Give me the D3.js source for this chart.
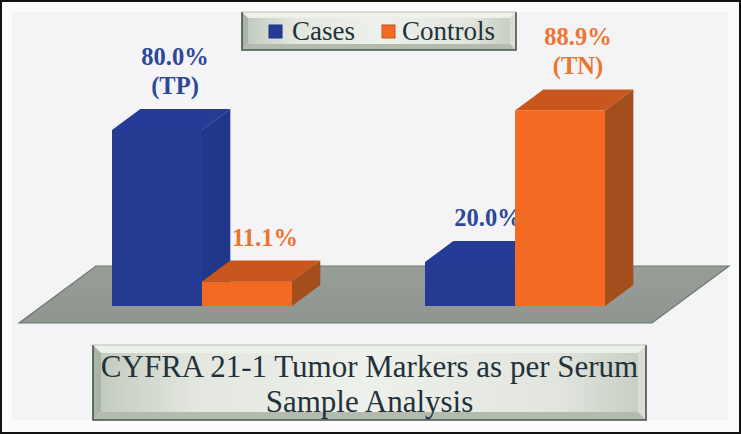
<!DOCTYPE html>
<meta charset="utf-8">
<style>
body {
    margin: 0;
    background: #fdfdfd;
}
svg {
    display: block;
}
.lbl {
    font-family: "Liberation Serif", "Times New Roman", serif;
    font-weight: bold;
    font-size: 24.5px;
    text-anchor: middle;
}
.legend text, .title text {
    font-family: "Liberation Serif", "Times New Roman", serif;
    fill: #22313a;
}
</style>
<body>
<div id="chart"></div>
<script src="https://cdnjs.cloudflare.com/ajax/libs/d3/7.8.5/d3.min.js"></script>
<script>
// values (percent)
var categories = ["Positive", "Negative"];
var series = ["Cases", "Controls"];
var cases = [80.0, 20.0];
var controls = [11.1, 88.9];
var casesTags = ["(TP)", ""];
var controlsTags = ["", "(TN)"];
var titleLines = ["CYFRA 21-1 Tumor Markers as per Serum", "Sample Analysis"];

var width = 741, height = 434;
var base = 306;            // front bottom of the bars
var depth = 21, slant = 1.35;
var colors = {
    Cases: { front: "#233b93", top: "#243c95", side: "#20378c", text: "#2c4898" },
    Controls: { front: "#f36b22", top: "#c9571d", side: "#a54e1d", text: "#ed7431" }
};

var data = categories.map(function(c, i) {
    return {
        cat: c,
        values: [
            { key: "Cases", value: cases[i], tag: casesTags[i] },
            { key: "Controls", value: controls[i], tag: controlsTags[i] }
        ]
    };
});

var x0 = d3.scaleBand().domain(categories).range([112, 605]).paddingInner(0.425);
var x1 = d3.scaleBand().domain(series).range([0, x0.bandwidth()]);
var y = d3.scaleLinear().domain([0, 100]).range([base, base - 220]);

var svg = d3.select("#chart").append("svg")
    .attr("width", width)
    .attr("height", height);

var defs = svg.append("defs");
function hGrad(id, stops) {
    var g = defs.append("linearGradient").attr("id", id);
    stops.forEach(function(s) {
        g.append("stop").attr("offset", s[0]).attr("stop-color", s[1]);
    });
}
hGrad("face", [["0%", "#c3cbbf"], ["18%", "#e4e7e0"], ["50%", "#eef0eb"], ["85%", "#e2e5de"], ["100%", "#c8cfc4"]]);
var fg = defs.append("linearGradient").attr("id", "floor").attr("x1", 0).attr("y1", 0).attr("x2", 0).attr("y2", 1);
fg.append("stop").attr("offset", "0%").attr("stop-color", "#979e98");
fg.append("stop").attr("offset", "100%").attr("stop-color", "#8f9690");

// frame + panel
svg.append("rect").attr("x", 1).attr("y", 1).attr("width", width - 2).attr("height", height - 2)
    .attr("fill", "#fcfcfc").attr("stroke", "#111").attr("stroke-width", 2);
svg.append("rect").attr("x", 12).attr("y", 12).attr("width", 716).attr("height", 408)
    .attr("fill", "#f4f4f7");

// floor
var fl = x0.range()[0] - 70, fr = x0.range()[1] + 70;
var front = 17, back = 40;
var floorPts = [
    [fl - front * slant, base + front], [fr - front * slant, base + front],
    [fr + back * slant, base - back], [fl + back * slant, base - back]
];
svg.append("polygon")
    .attr("points", floorPts.map(function(p) { return p.join(","); }).join(" "))
    .attr("fill", "url(#floor)")
    .attr("stroke", "#6f7773")
    .attr("stroke-width", 1.2);

// bars
var dx = depth * slant, dy = depth;
var group = svg.selectAll(".grp")
    .data(data)
    .enter().append("g")
    .attr("class", "grp")
    .attr("transform", function(d) { return "translate(" + x0(d.cat) + ",0)"; });

var bar = group.selectAll(".bar")
    .data(function(d) { return d.values; })
    .enter().append("g")
    .attr("class", "bar");

function pts(a) { return a.map(function(p) { return p.join(","); }).join(" "); }

bar.append("polygon")   // top
    .attr("points", function(d) {
        var l = x1(d.key), r = l + x1.bandwidth(), t = y(d.value);
        return pts([[l, t], [r, t], [r + dx, t - dy], [l + dx, t - dy]]);
    })
    .attr("fill", function(d) { return colors[d.key].top; });
bar.append("polygon")   // side
    .attr("points", function(d) {
        var r = x1(d.key) + x1.bandwidth(), t = y(d.value);
        return pts([[r, t], [r + dx, t - dy], [r + dx, base - dy], [r, base]]);
    })
    .attr("fill", function(d) { return colors[d.key].side; });
bar.append("rect")      // front
    .attr("x", function(d) { return x1(d.key); })
    .attr("y", function(d) { return y(d.value); })
    .attr("width", x1.bandwidth())
    .attr("height", function(d) { return base - y(d.value); })
    .attr("fill", function(d) { return colors[d.key].front; });

// value labels
var lbl = bar.append("text")
    .attr("class", "lbl")
    .attr("fill", function(d) { return colors[d.key].text; })
    .attr("x", function(d) { return x1(d.key) + x1.bandwidth() / 2 + 18; })
    .attr("y", function(d) { return y(d.value) - dy - 15 - (d.tag ? 29 : 0); });
lbl.append("tspan").text(function(d) { return d.value.toFixed(1) + "%"; });
lbl.append("tspan")
    .attr("x", function(d) { return x1(d.key) + x1.bandwidth() / 2 + 18; })
    .attr("dy", 29)
    .text(function(d) { return d.tag; });

// bevelled box
function bevelBox(g, x, y0, w, h, b) {
    var x2 = x + w, y2 = y0 + h;
    g.append("polygon").attr("points", pts([[x, y0], [x2, y0], [x2 - b, y0 + b], [x + b, y0 + b]])).attr("fill", "#eef0ea");
    g.append("polygon").attr("points", pts([[x, y0], [x + b, y0 + b], [x + b, y2 - b], [x, y2]])).attr("fill", "#aab4a6");
    g.append("polygon").attr("points", pts([[x2, y0], [x2, y2], [x2 - b, y2 - b], [x2 - b, y0 + b]])).attr("fill", "#d9ddd4");
    g.append("polygon").attr("points", pts([[x, y2], [x + b, y2 - b], [x2 - b, y2 - b], [x2, y2]])).attr("fill", "#b3baae");
    g.append("rect").attr("x", x + b).attr("y", y0 + b).attr("width", w - 2 * b).attr("height", h - 2 * b).attr("fill", "url(#face)");
    g.append("path")
        .attr("d", "M" + x + "," + y0 + "V" + y2 + "H" + x2 + "V" + y0)
        .attr("fill", "none").attr("stroke", "#45514d").attr("stroke-width", 1.6);
    g.append("line").attr("x1", x).attr("x2", x2).attr("y1", y0).attr("y2", y0)
        .attr("stroke", "#b9c0b5").attr("stroke-width", 1);
}

// legend
var legend = svg.append("g").attr("class", "legend");
bevelBox(legend, 242, 12, 274, 38, 6);
var legX = [269, 382], legT = [292, 402];
series.forEach(function(s, i) {
    legend.append("rect")
        .attr("x", legX[i]).attr("y", 25).attr("width", 13).attr("height", 13)
        .attr("fill", colors[s].front)
        .attr("stroke", i ? "#c0561d" : "#1c3384").attr("stroke-width", 1);
    legend.append("text").attr("x", legT[i]).attr("y", 40)
        .style("font-size", "27px").text(s);
});

// title
var title = svg.append("g").attr("class", "title");
bevelBox(title, 93, 345, 553, 75, 8);
title.selectAll("text.t")
    .data(titleLines)
    .enter().append("text")
    .attr("class", "t")
    .attr("x", 369.5)
    .attr("y", function(d, i) { return 377 + i * 35; })
    .attr("text-anchor", "middle")
    .style("font-size", "31px")
    .text(function(d) { return d; });
</script>
</body>
